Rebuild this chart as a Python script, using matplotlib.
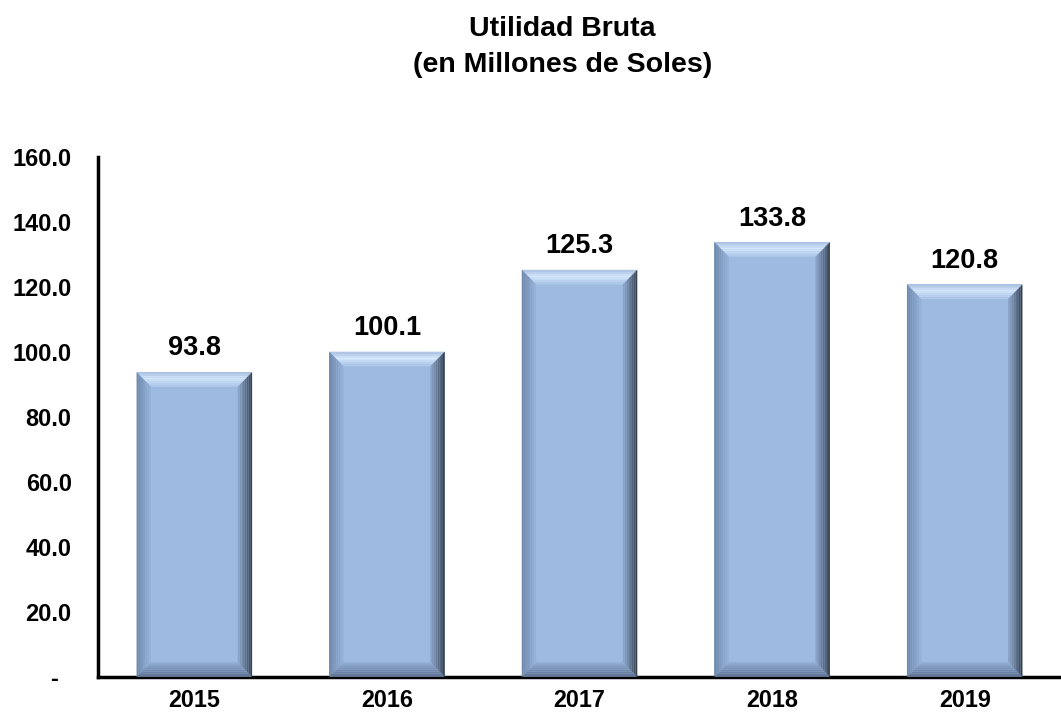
import matplotlib.pyplot as plt
from matplotlib.patches import Polygon
import numpy as np

plt.rcParams['font.family'] = ['Liberation Sans', 'DejaVu Sans']

anios = ['2015', '2016', '2017', '2018', '2019']
utilidad = [93.8, 100.1, 125.3, 133.8, 120.8]
ticks_y = [0, 20, 40, 60, 80, 100, 120, 140, 160]
etiquetas_y = ['-  ', '20.0', '40.0', '60.0', '80.0', '100.0', '120.0', '140.0', '160.0']

COLOR_CARA = '#9EBAE0'


def mezclar(c1, c2, t):
    c1 = np.array(plt.matplotlib.colors.to_rgb(c1))
    c2 = np.array(plt.matplotlib.colors.to_rgb(c2))
    return tuple(c1 * (1 - t) + c2 * t)


def franjas(ax, esquinas, colores):
    # esquinas: funcion t -> (p_a, p_b) a lo largo del bisel
    n = len(colores)
    for i, c in enumerate(colores):
        t0, t1 = i / n, (i + 1) / n
        a0, b0 = esquinas(t0)
        a1, b1 = esquinas(t1)
        ax.add_patch(Polygon([a0, b0, b1, a1], closed=True, color=c, lw=0, zorder=3))


def barra_biselada(ax, x, ancho, alto, bx, by):
    x0, x1 = x - ancho / 2, x + ancho / 2
    y0, y1 = 0, alto
    ax.add_patch(plt.Rectangle((x0, y0), ancho, alto, color=COLOR_CARA, zorder=2, lw=0))
    n = 8
    ts = (np.arange(n) + 0.5) / n
    # superior: borde gris-azulado, banda clara, vuelve a la cara
    sup = [mezclar('#A7BFDF', '#D8EBFD', min(1, t * 2.2)) if t < 0.45
           else mezclar('#D8EBFD', '#A9C4E8', (t - 0.45) / 0.55) for t in ts]
    franjas(ax, lambda t: ((x0 + bx * t, y1 - by * t), (x1 - bx * t, y1 - by * t)), sup)
    # izquierdo
    izq = [mezclar('#6D86A8', '#98B4DB', t) for t in ts]
    franjas(ax, lambda t: ((x0 + bx * t, y0 + by * t), (x0 + bx * t, y1 - by * t)), izq)
    # derecho (oscuro)
    der = [mezclar('#2C3440', '#8EA9CF', t ** 0.8) for t in ts]
    franjas(ax, lambda t: ((x1 - bx * t, y0 + by * t), (x1 - bx * t, y1 - by * t)), der)
    # inferior
    inf = [mezclar('#5A6E8C', '#93AFD7', t) for t in ts]
    franjas(ax, lambda t: ((x0 + bx * t, y0 + by * t), (x1 - bx * t, y0 + by * t)), inf)


fig = plt.figure(figsize=(10.61, 7.17), dpi=100)
ax = fig.add_axes([0.0924, 0.0558, 0.9076, 0.7252])

pos = np.arange(len(anios))
ax.set_xlim(-0.5, len(anios) - 0.5)
ax.set_ylim(0, 160)

ancho_barra = 0.6
bx = 0.075
by = 4.5
for p, v in zip(pos, utilidad):
    barra_biselada(ax, p, ancho_barra, v, bx, by)
    ax.annotate(f'{v:.1f}', (p, v), xytext=(0, 12), textcoords='offset points',
                ha='center', va='baseline', fontsize=19.5, fontweight='bold')

ax.set_xticks(pos)
ax.set_xticklabels(anios, fontsize=16.8, fontweight='bold')
ax.set_yticks(ticks_y)
ax.set_yticklabels(etiquetas_y, fontsize=17, fontweight='bold')
ax.tick_params(axis='both', length=0)
ax.tick_params(axis='x', pad=9)
ax.tick_params(axis='y', pad=19)

for lado in ['top', 'right']:
    ax.spines[lado].set_visible(False)
ax.spines['left'].set_linewidth(2.5)
ax.spines['bottom'].set_linewidth(2.5)

fig.text(0.530, 1 - 36 / 717, 'Utilidad Bruta', ha='center', va='baseline',
         fontsize=20.5, fontweight='bold')
fig.text(0.530, 1 - 72 / 717, '(en Millones de Soles)', ha='center', va='baseline',
         fontsize=20.5, fontweight='bold')

fig.savefig('out.png', dpi=100)
